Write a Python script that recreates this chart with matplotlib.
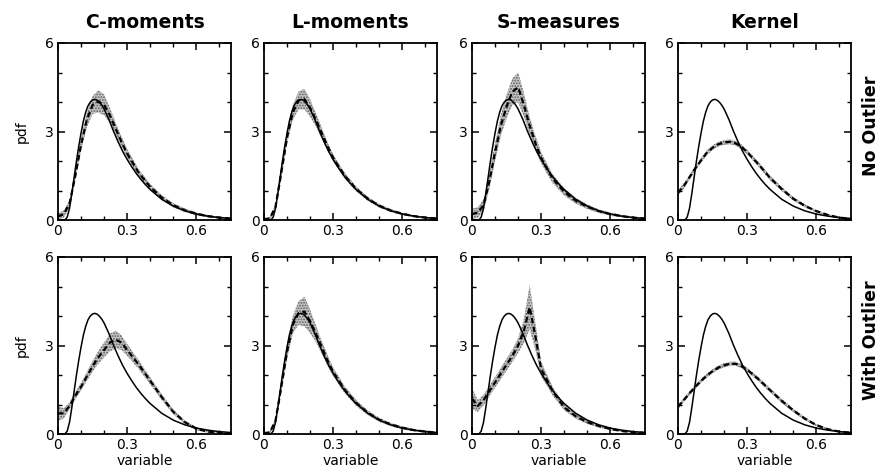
import matplotlib
matplotlib.use('Agg')
import matplotlib.pyplot as plt
import numpy as np

plt.rcParams['font.family'] = ['DejaVu Sans']
plt.rcParams['hatch.linewidth'] = 0.9

# true pdf (solid line)
x_true = [0.03, 0.04, 0.05, 0.06, 0.07, 0.08, 0.09, 0.10, 0.11, 0.12, 0.13, 0.14,
          0.15, 0.16, 0.17, 0.18, 0.19, 0.20, 0.22, 0.24, 0.26, 0.28, 0.30, 0.32,
          0.34, 0.36, 0.38, 0.40, 0.45, 0.50, 0.55, 0.60, 0.65, 0.70, 0.75]
y_true = [0.0, 0.1, 0.4, 0.9, 1.45, 2.0, 2.5, 2.95, 3.35, 3.65, 3.87, 4.0,
          4.07, 4.09, 4.06, 3.99, 3.89, 3.76, 3.42, 3.02, 2.66, 2.33, 2.05, 1.8,
          1.57, 1.37, 1.19, 1.03, 0.7, 0.47, 0.31, 0.2, 0.13, 0.08, 0.05]

# estimate grid
x_est = [0, 0.025, 0.05, 0.075, 0.1, 0.125, 0.15, 0.175, 0.2, 0.225, 0.25,
         0.275, 0.3, 0.35, 0.4, 0.45, 0.5, 0.55, 0.6, 0.65, 0.7, 0.75]

# no outlier: mean estimate and half width of band
cmom_no = [0.12, 0.2, 0.55, 1.5, 2.55, 3.4, 3.9, 4.02, 3.9, 3.55, 3.1,
           2.65, 2.25, 1.6, 1.12, 0.76, 0.5, 0.33, 0.21, 0.13, 0.08, 0.05]
cmom_no_hw = [0.12, 0.12, 0.12, 0.15, 0.2, 0.25, 0.3, 0.38, 0.35, 0.25, 0.2,
              0.18, 0.15, 0.12, 0.1, 0.08, 0.07, 0.06, 0.05, 0.04, 0.03, 0.03]
lmom_no = [0.03, 0.05, 0.45, 1.6, 2.8, 3.65, 4.05, 4.1, 3.8, 3.4, 2.95,
           2.5, 2.1, 1.5, 1.05, 0.72, 0.48, 0.32, 0.21, 0.13, 0.08, 0.05]
lmom_no_hw = [0.03, 0.05, 0.08, 0.15, 0.2, 0.25, 0.3, 0.35, 0.3, 0.22, 0.18,
              0.15, 0.12, 0.1, 0.08, 0.07, 0.06, 0.05, 0.04, 0.03, 0.03, 0.02]
smeas_no = [0.2, 0.25, 0.5, 1.3, 2.3, 3.2, 3.85, 4.35, 4.5, 3.9, 3.2,
            2.6, 2.1, 1.4, 0.95, 0.65, 0.45, 0.3, 0.2, 0.13, 0.08, 0.05]
smeas_no_hw = [0.18, 0.18, 0.2, 0.25, 0.3, 0.35, 0.4, 0.45, 0.5, 0.4, 0.3,
               0.25, 0.2, 0.15, 0.12, 0.1, 0.08, 0.06, 0.05, 0.04, 0.03, 0.03]
kern_no = [0.92, 1.15, 1.45, 1.75, 2.02, 2.28, 2.45, 2.57, 2.63, 2.65, 2.6,
           2.48, 2.3, 1.88, 1.42, 1.05, 0.72, 0.48, 0.3, 0.17, 0.08, 0.04]
kern_no_hw = [0.1, 0.09, 0.08, 0.08, 0.08, 0.08, 0.08, 0.08, 0.08, 0.08, 0.08,
              0.08, 0.08, 0.08, 0.08, 0.07, 0.06, 0.05, 0.04, 0.03, 0.03, 0.02]

# with outlier
cmom_out = [0.7, 0.7, 0.95, 1.3, 1.6, 1.95, 2.3, 2.6, 2.85, 3.1, 3.2,
            3.1, 2.85, 2.35, 1.8, 1.25, 0.75, 0.4, 0.18, 0.08, 0.04, 0.02]
cmom_out_hw = [0.25, 0.17, 0.12, 0.12, 0.13, 0.15, 0.18, 0.22, 0.25, 0.3, 0.3,
               0.25, 0.2, 0.15, 0.12, 0.1, 0.08, 0.06, 0.05, 0.04, 0.03, 0.02]
lmom_out = [0.03, 0.05, 0.45, 1.6, 2.8, 3.7, 4.1, 4.15, 3.82, 3.4, 2.95,
            2.5, 2.1, 1.5, 1.05, 0.72, 0.48, 0.32, 0.21, 0.13, 0.08, 0.05]
lmom_out_hw = [0.03, 0.05, 0.1, 0.18, 0.25, 0.3, 0.4, 0.5, 0.4, 0.28, 0.22,
               0.18, 0.15, 0.12, 0.1, 0.08, 0.07, 0.06, 0.05, 0.04, 0.03, 0.02]
smeas_out = [1.2, 0.95, 1.15, 1.45, 1.75, 2.05, 2.35, 2.65, 3.0, 3.5, 4.3,
             3.3, 2.2, 1.45, 0.9, 0.6, 0.4, 0.27, 0.17, 0.1, 0.06, 0.04]
smeas_out_hw = [0.35, 0.2, 0.18, 0.18, 0.18, 0.2, 0.2, 0.22, 0.25, 0.4, 0.75,
                0.45, 0.25, 0.15, 0.1, 0.08, 0.06, 0.05, 0.04, 0.03, 0.03, 0.02]
kern_out = [0.92, 1.15, 1.38, 1.6, 1.8, 1.98, 2.13, 2.25, 2.33, 2.38, 2.38,
            2.3, 2.18, 1.85, 1.48, 1.12, 0.8, 0.52, 0.3, 0.16, 0.08, 0.04]
kern_out_hw = [0.08, 0.07, 0.07, 0.07, 0.07, 0.07, 0.07, 0.07, 0.07, 0.07, 0.07,
               0.07, 0.07, 0.07, 0.07, 0.07, 0.06, 0.05, 0.04, 0.03, 0.03, 0.02]

col_titles = ['C-moments', 'L-moments', 'S-measures', 'Kernel']
row_titles = ['No Outlier', 'With Outlier']
panels = [[(cmom_no, cmom_no_hw), (lmom_no, lmom_no_hw), (smeas_no, smeas_no_hw), (kern_no, kern_no_hw)],
          [(cmom_out, cmom_out_hw), (lmom_out, lmom_out_hw), (smeas_out, smeas_out_hw), (kern_out, kern_out_hw)]]

fig = plt.figure(figsize=(8.89, 4.72), dpi=100)
W, H = 889, 472
lefts = [58, 264, 472, 678]
tops = [43, 257]
aw, ah = 173, 177

xe = np.array(x_est)
for r in range(2):
    for c in range(4):
        ax = fig.add_axes([lefts[c] / W, 1 - (tops[r] + ah) / H, aw / W, ah / H])
        mean, hw = panels[r][c]
        mean = np.array(mean)
        hw = np.array(hw)
        ax.fill_between(xe, np.clip(mean - hw, 0, None), mean + hw,
                        facecolor='#c6c6c6', edgecolor='#5e5e5e', hatch='......',
                        linewidth=0)
        ax.plot(xe, mean, color='black', lw=1.6, ls=(0, (2.5, 1.5)))
        ax.plot(x_true, y_true, color='black', lw=1.1)
        ax.set_xlim(0, 0.75)
        ax.set_ylim(0, 6)
        ax.set_xticks([0, 0.3, 0.6])
        ax.set_xticklabels(['0', '0.3', '0.6'])
        ax.set_xticks([0.1, 0.2, 0.4, 0.5, 0.7], minor=True)
        ax.set_yticks([0, 3, 6])
        ax.set_yticklabels(['0', '3', '6'])
        ax.set_yticks([1, 2, 4, 5], minor=True)
        ax.tick_params(which='both', direction='in', top=True, right=True,
                       labelsize=10, pad=3)
        ax.tick_params(which='major', length=5, width=1.1)
        ax.tick_params(which='minor', length=3, width=1.0)
        for s in ax.spines.values():
            s.set_linewidth(1.3)
        if c == 0:
            ax.set_ylabel('pdf', fontsize=10, labelpad=12)
        if r == 1:
            ax.set_xlabel('variable', fontsize=10, labelpad=1)
        if r == 0:
            ax.set_title(col_titles[c], fontsize=13.5, fontweight='bold', pad=11)

fig.text(871 / W, 1 - 126 / H, row_titles[0], rotation=90, fontsize=12.5,
         fontweight='bold', ha='center', va='center')
fig.text(871 / W, 1 - 340 / H, row_titles[1], rotation=90, fontsize=12.5,
         fontweight='bold', ha='center', va='center')

fig.savefig('out.png', dpi=100)
